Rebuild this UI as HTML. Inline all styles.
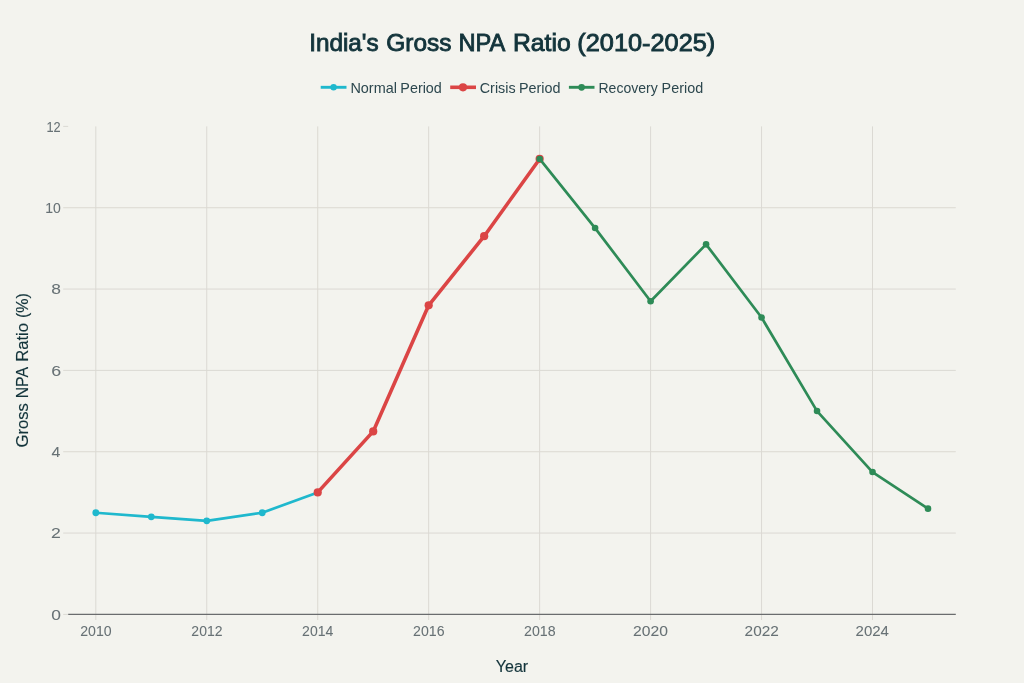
<!DOCTYPE html><html><head><meta charset="utf-8"><title>India Gross NPA Ratio</title>
<style>html,body{margin:0;padding:0;background:#f3f3ee;}body{width:1024px;height:683px;overflow:hidden;}svg{display:block;will-change:transform;}text{font-family:"Liberation Sans",sans-serif;}</style></head><body>
<svg width="1024" height="683" viewBox="0 0 1024 683">
<rect x="0" y="0" width="1024" height="683" fill="#f3f3ee"/>
<g stroke="#dbd9d3" stroke-width="1" fill="none">
<line x1="95.80" y1="126.40" x2="95.80" y2="620.00"/>
<line x1="206.76" y1="126.40" x2="206.76" y2="620.00"/>
<line x1="317.72" y1="126.40" x2="317.72" y2="620.00"/>
<line x1="428.68" y1="126.40" x2="428.68" y2="620.00"/>
<line x1="539.64" y1="126.40" x2="539.64" y2="620.00"/>
<line x1="650.60" y1="126.40" x2="650.60" y2="620.00"/>
<line x1="761.56" y1="126.40" x2="761.56" y2="620.00"/>
<line x1="872.52" y1="126.40" x2="872.52" y2="620.00"/>
<line x1="63.20" y1="533.07" x2="955.80" y2="533.07"/>
<line x1="63.20" y1="451.73" x2="955.80" y2="451.73"/>
<line x1="63.20" y1="370.40" x2="955.80" y2="370.40"/>
<line x1="63.20" y1="289.07" x2="955.80" y2="289.07"/>
<line x1="63.20" y1="207.73" x2="955.80" y2="207.73"/>
<line x1="63.20" y1="614.40" x2="68.20" y2="614.40"/>
<line x1="63.20" y1="126.40" x2="68.20" y2="126.40"/>
</g>
<line x1="68.20" y1="614.40" x2="955.80" y2="614.40" stroke="#6a6c6e" stroke-width="1.25"/>
<path d="M95.80,512.73 L151.28,516.80 L206.76,520.87 L262.24,512.73 L317.72,492.40" fill="none" stroke="#1fb8cd" stroke-width="2.7" stroke-linejoin="round" stroke-linecap="butt"/>
<circle cx="95.80" cy="512.73" r="3.4" fill="#1fb8cd"/>
<circle cx="151.28" cy="516.80" r="3.4" fill="#1fb8cd"/>
<circle cx="206.76" cy="520.87" r="3.4" fill="#1fb8cd"/>
<circle cx="262.24" cy="512.73" r="3.4" fill="#1fb8cd"/>
<circle cx="317.72" cy="492.40" r="3.4" fill="#1fb8cd"/>
<path d="M317.72,492.40 L373.20,431.40 L428.68,305.33 L484.16,236.20 L539.64,158.93" fill="none" stroke="#db4545" stroke-width="3.6" stroke-linejoin="round" stroke-linecap="butt"/>
<circle cx="317.72" cy="492.40" r="4.1" fill="#db4545"/>
<circle cx="373.20" cy="431.40" r="4.1" fill="#db4545"/>
<circle cx="428.68" cy="305.33" r="4.1" fill="#db4545"/>
<circle cx="484.16" cy="236.20" r="4.1" fill="#db4545"/>
<circle cx="539.64" cy="158.93" r="4.1" fill="#db4545"/>
<path d="M539.64,158.93 L595.12,228.07 L650.60,301.27 L706.08,244.33 L761.56,317.53 L817.04,411.07 L872.52,472.07 L928.00,508.67" fill="none" stroke="#2e8b57" stroke-width="2.7" stroke-linejoin="round" stroke-linecap="butt"/>
<circle cx="539.64" cy="158.93" r="3.3" fill="#2e8b57"/>
<circle cx="595.12" cy="228.07" r="3.3" fill="#2e8b57"/>
<circle cx="650.60" cy="301.27" r="3.3" fill="#2e8b57"/>
<circle cx="706.08" cy="244.33" r="3.3" fill="#2e8b57"/>
<circle cx="761.56" cy="317.53" r="3.3" fill="#2e8b57"/>
<circle cx="817.04" cy="411.07" r="3.3" fill="#2e8b57"/>
<circle cx="872.52" cy="472.07" r="3.3" fill="#2e8b57"/>
<circle cx="928.00" cy="508.67" r="3.3" fill="#2e8b57"/>
<g fill="#677175" font-size="14px" stroke="#677175" stroke-width="0.05">
<text x="80.18" y="636.2" textLength="31.44" lengthAdjust="spacingAndGlyphs">2010</text>
<text x="191.37" y="636.2" textLength="31.11" lengthAdjust="spacingAndGlyphs">2012</text>
<text x="302.12" y="636.2" textLength="31.15" lengthAdjust="spacingAndGlyphs">2014</text>
<text x="413.07" y="636.2" textLength="31.43" lengthAdjust="spacingAndGlyphs">2016</text>
<text x="524.08" y="636.2" textLength="31.54" lengthAdjust="spacingAndGlyphs">2018</text>
<text x="633.10" y="636.2" textLength="34.91" lengthAdjust="spacingAndGlyphs">2020</text>
<text x="744.61" y="636.2" textLength="34.21" lengthAdjust="spacingAndGlyphs">2022</text>
<text x="855.59" y="636.2" textLength="33.39" lengthAdjust="spacingAndGlyphs">2024</text>
<text x="51.16" y="619.50" textLength="9.69" lengthAdjust="spacingAndGlyphs">0</text>
<text x="51.14" y="538.17" textLength="9.81" lengthAdjust="spacingAndGlyphs">2</text>
<text x="51.54" y="456.83" textLength="8.87" lengthAdjust="spacingAndGlyphs">4</text>
<text x="51.15" y="375.50" textLength="9.92" lengthAdjust="spacingAndGlyphs">6</text>
<text x="51.29" y="294.17" textLength="9.68" lengthAdjust="spacingAndGlyphs">8</text>
<text x="45.15" y="212.83" textLength="15.59" lengthAdjust="spacingAndGlyphs">10</text>
<text x="46.40" y="131.50" textLength="14.21" lengthAdjust="spacingAndGlyphs">12</text>
</g>
<g font-size="24.8px" fill="#13343b" stroke="#13343b" stroke-width="0.9">
<text x="309.14" y="50.7" textLength="69.54" lengthAdjust="spacingAndGlyphs">India's</text>
<text x="386.35" y="50.7" textLength="65.15" lengthAdjust="spacingAndGlyphs">Gross</text>
<text x="458.46" y="50.7" textLength="46.91" lengthAdjust="spacingAndGlyphs">NPA</text>
<text x="512.97" y="50.7" textLength="57.76" lengthAdjust="spacingAndGlyphs">Ratio</text>
<text x="577.34" y="50.7" textLength="137.90" lengthAdjust="spacingAndGlyphs">(2010-2025)</text>
</g>
<line x1="320.70" y1="87.3" x2="346.50" y2="87.3" stroke="#1fb8cd" stroke-width="2.9"/>
<circle cx="333.60" cy="87.3" r="3.2" fill="#1fb8cd"/>
<text x="350.40" y="92.7" font-size="14.3px" fill="#2c474e" textLength="46.51" lengthAdjust="spacingAndGlyphs">Normal</text>
<text x="400.32" y="92.7" font-size="14.3px" fill="#2c474e" textLength="41.51" lengthAdjust="spacingAndGlyphs">Period</text>
<line x1="450.20" y1="87.3" x2="476.00" y2="87.3" stroke="#db4545" stroke-width="3.6"/>
<circle cx="463.00" cy="87.3" r="4.1" fill="#db4545"/>
<text x="479.78" y="92.7" font-size="14.3px" fill="#2c474e" textLength="35.86" lengthAdjust="spacingAndGlyphs">Crisis</text>
<text x="518.95" y="92.7" font-size="14.3px" fill="#2c474e" textLength="41.53" lengthAdjust="spacingAndGlyphs">Period</text>
<line x1="568.90" y1="87.3" x2="594.50" y2="87.3" stroke="#2e8b57" stroke-width="2.9"/>
<circle cx="581.60" cy="87.3" r="3.35" fill="#2e8b57"/>
<text x="598.48" y="92.7" font-size="14.3px" fill="#2c474e" textLength="59.30" lengthAdjust="spacingAndGlyphs">Recovery</text>
<text x="661.60" y="92.7" font-size="14.3px" fill="#2c474e" textLength="41.54" lengthAdjust="spacingAndGlyphs">Period</text>
<text x="512" y="671.7" text-anchor="middle" font-size="16px" fill="#13343b" stroke="#13343b" stroke-width="0.15">Year</text>
<g transform="translate(28.4,447) rotate(-90)" font-size="16px" fill="#13343b" stroke="#13343b" stroke-width="0.15">
<text x="-0.43" y="0" textLength="44.27" lengthAdjust="spacingAndGlyphs">Gross</text>
<text x="48.72" y="0" textLength="31.30" lengthAdjust="spacingAndGlyphs">NPA</text>
<text x="85.23" y="0" textLength="38.82" lengthAdjust="spacingAndGlyphs">Ratio</text>
<text x="128.97" y="0" textLength="24.85" lengthAdjust="spacingAndGlyphs">(%)</text>
</g>
</svg></body></html>
